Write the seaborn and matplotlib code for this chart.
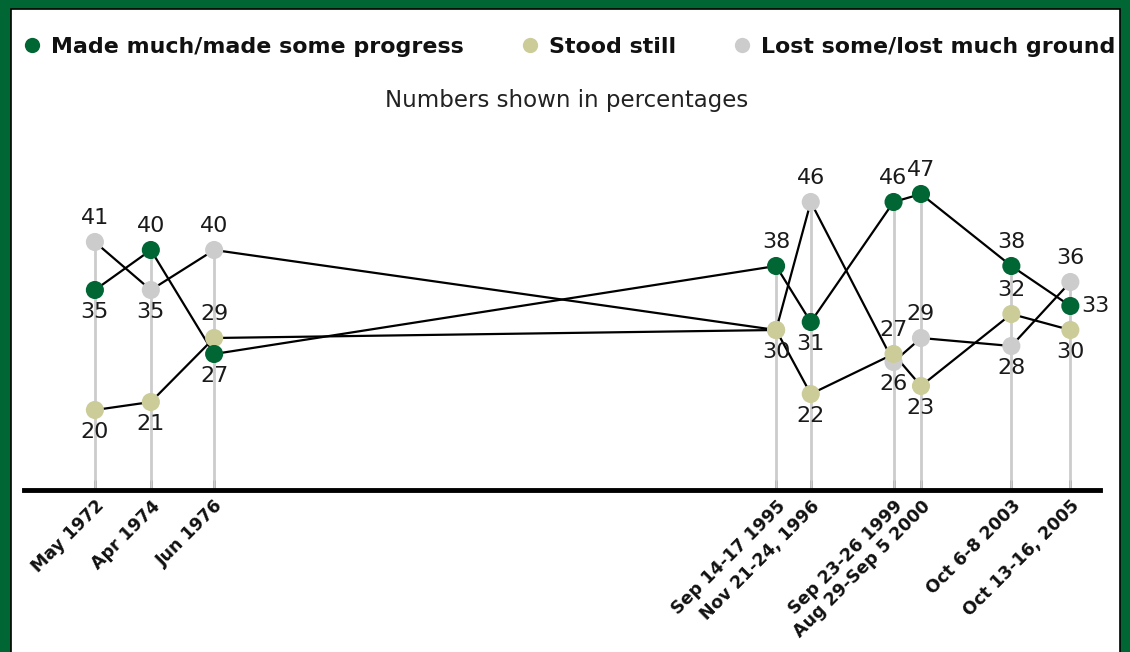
import matplotlib
matplotlib.use("Agg")
import matplotlib.pyplot as plt
from matplotlib.patches import Rectangle
from matplotlib.lines import Line2D
import seaborn as sns
import pandas as pd

# ---- data ----
date_labels = ["May 1972", "Apr 1974", "Jun 1976", "Sep 14-17 1995", "Nov 21-24, 1996",
               "Sep 23-26 1999", "Aug 29-Sep 5 2000", "Oct 6-8 2003", "Oct 13-16, 2005"]
dates = ["1972-05-15", "1974-04-15", "1976-06-15", "1995-09-15", "1996-11-22",
         "1999-09-24", "2000-09-01", "2003-10-07", "2005-10-14"]
progress = [35, 40, 27, 38, 31, 46, 47, 38, 33]
stood_still = [20, 21, 29, 30, 22, 27, 23, 32, 30]
lost_ground = [41, 35, 40, 30, 46, 26, 29, 28, 36]
series_names = ["Made much/made some progress", "Stood still", "Lost some/lost much ground"]

# label placement (style): a=above, b=below, r=right, n=none
progress_pos = ["b", "a", "b", "a", "b", "a", "a", "a", "r"]
stood_pos = ["b", "b", "a", "n", "b", "a", "b", "a", "b"]
lost_pos = ["a", "b", "a", "b", "a", "b", "a", "b", "a"]

colors = ["#006633", "#cccc99", "#cccccc"]

sns.set_theme(style="white")
plt.rcParams["font.family"] = ["DejaVu Sans"]

W, H = 1130, 652
fig = plt.figure(figsize=(W / 100, H / 100), dpi=100)
fig.patch.set_facecolor("#006633")
# white panel with thin black edge
panel = Rectangle((11 / W, -0.05), (1120 - 11) / W, 1.05 - 9 / H,
                  transform=fig.transFigure, facecolor="white",
                  edgecolor="black", linewidth=1.2, zorder=-10)
fig.patches.append(panel)

ax_left, ax_right = 24 / W, 1100 / W
ax_bottom, ax_top = 1 - 490 / H, 1 - 130 / H
ax = fig.add_axes([ax_left, ax_bottom, ax_right - ax_left, ax_top - ax_bottom])
ax.set_facecolor("none")
ax.set_zorder(5)

x = pd.to_datetime(dates)
df = pd.DataFrame({"date": list(x) * 3,
                   "value": progress + stood_still + lost_ground,
                   "series": sum([[s] * len(dates) for s in series_names], [])})

ymin, ymax = 10, 55

# drop lines from the top point to the axis
tops = [max(a, b, c) for a, b, c in zip(progress, stood_still, lost_ground)]
ax.vlines(x, ymin, tops, color="#cccccc", linewidth=2, zorder=1)

# connecting lines (black)
for s in series_names:
    sub = df[df["series"] == s]
    sns.lineplot(data=sub, x="date", y="value", color="black", linewidth=1.6,
                 ax=ax, zorder=2, legend=False, sort=False)

# markers (in reverse order so green is on top)
sns.scatterplot(data=df.iloc[::-1], x="date", y="value", hue="series",
                hue_order=series_names, palette=colors, s=170,
                edgecolor="none", ax=ax, zorder=3, legend=False)

# value labels
for vals, poss in [(progress, progress_pos), (stood_still, stood_pos), (lost_ground, lost_pos)]:
    for xi, v, p in zip(x, vals, poss):
        if p == "n":
            continue
        if p == "a":
            off, ha, va = (0, 10), "center", "bottom"
        elif p == "b":
            off, ha, va = (0, -9), "center", "top"
        else:
            off, ha, va = (8, 0), "left", "center"
        ax.annotate(str(v), (xi, v), xytext=off, textcoords="offset points",
                    ha=ha, va=va, fontsize=16, color="#1a1a1a", zorder=4)

ax.set_ylim(ymin, ymax)
ax.set_xlim(pd.Timestamp("1969-12-10"), pd.Timestamp("2006-10-20"))
for sp in ["top", "left", "right"]:
    ax.spines[sp].set_visible(False)
ax.spines["bottom"].set_linewidth(3.5)
ax.spines["bottom"].set_color("black")
ax.set_yticks([])
ax.set_xticks(x)
ax.set_xticklabels(date_labels, rotation=45, ha="right", rotation_mode="anchor",
                   fontsize=12.5, fontweight="bold", color="#111111")
ax.tick_params(axis="x", direction="in", length=7, width=2, color="black", pad=5,
               bottom=True)
ax.set_xlabel("")
ax.set_ylabel("")

# legend
handles = [Line2D([0], [0], marker="o", linestyle="none", markerfacecolor=c,
                  markeredgecolor="none", markersize=11) for c in colors]
leg = fig.legend(handles, series_names, loc="center", bbox_to_anchor=(0.503, 1 - 47 / H),
                 ncol=3, frameon=False, handletextpad=0.35, columnspacing=2.5,
                 handlelength=1.0, prop={"weight": "bold", "size": 15.9})
for t in leg.get_texts():
    t.set_color("#111111")

fig.text(567 / W, 1 - 101 / H, "Numbers shown in percentages", ha="center", va="center",
         fontsize=16.5, color="#222222")

fig.savefig("out.png", dpi=100, facecolor=fig.get_facecolor())
